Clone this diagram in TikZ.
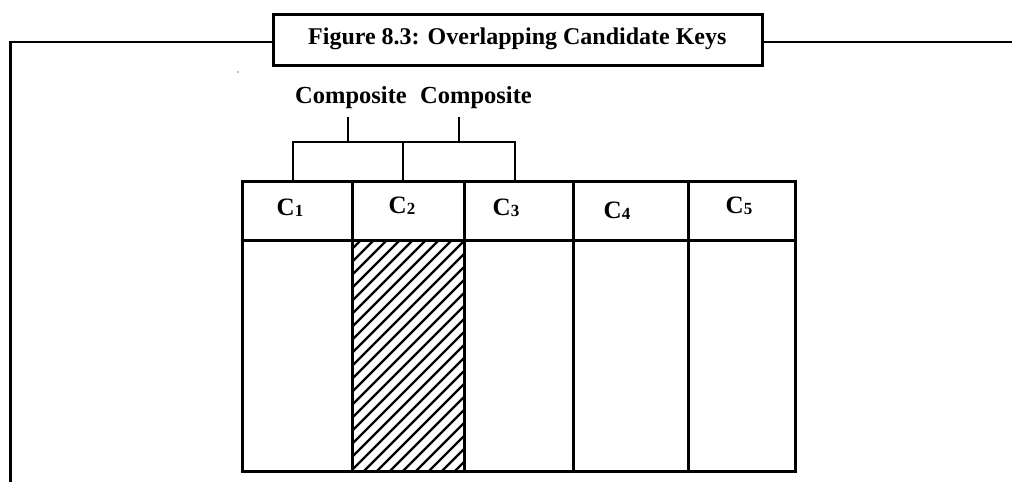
\documentclass[tikz,border=0pt]{standalone}
\usepackage{fontspec}
\setmainfont{Liberation Serif}
\begin{document}
\begin{tikzpicture}[x=1pt,y=-1pt,
  frame/.style={line width=2.5pt},
  gridline/.style={line width=3pt},
  bracket/.style={line width=2.6pt},
  hatchline/.style={line width=2.4pt},
  lbl/.style={font=\fontsize{25}{25}\selectfont\bfseries, inner sep=0pt, anchor=base},
  toplbl/.style={font=\fontsize{24.5}{25}\selectfont\bfseries, inner sep=0pt, anchor=base},
]
\useasboundingbox (0,0) rectangle (1012,482);
\newcommand{\sub}[1]{\raisebox{-1.5pt}{\fontsize{17}{17}\selectfont #1}}
% title box
\node[draw, line width=3pt, minimum width=489pt, minimum height=51pt, inner sep=0pt] (title) at (517.5,39.5) {};
\node[anchor=base west, inner sep=0pt, font=\fontsize{24}{28}\selectfont\bfseries] (ttext) at (308,44) {Figure 8.3: Overlapping Candidate Keys};
% frame
\coordinate (ly) at (0,42);
\coordinate (rend) at (1012,42);
\coordinate (lcorner) at (10.7,42);
\coordinate (lbottom) at (10.7,482);
\draw[frame] (ly -| title.east) -- (rend);
\draw[frame] (ly -| title.west) -- (lcorner) -- (lbottom);
% stray dot
\fill (238,72) circle (0.6pt);
% hatching of column 2
\begin{scope}
  \clip (352,240) rectangle (464,471);
  \foreach \s in {-234,-221,...,470} {
    \draw[hatchline] (\s,471) -- ++(231,-231);
  }
\end{scope}
% table
\coordinate (tl) at (242,181);
\coordinate (br) at (795,471);
\draw[gridline] (tl) rectangle (br);
\draw[gridline] (242,240) -- (795,240);
\foreach \x in {352,464,573,688} {
  \draw[gridline] (\x,181) -- (\x,471);
}
% header labels
\node[lbl] (c1) at (290,215) {C\sub{1}};
\node[lbl] (c2) at (402,213) {C\sub{2}};
\node[lbl] (c3) at (506,215) {C\sub{3}};
\node[lbl] (c4) at (617,218) {C\sub{4}};
\node[lbl] (c5) at (739,213) {C\sub{5}};
% composite labels
\node[toplbl] (k1) at (351,103) {Composite};
\node[toplbl] (k2) at (476,103) {Composite};
% bracket
\coordinate (b1) at (293,181);
\coordinate (b2) at (403,181);
\coordinate (b3) at (515,181);
\coordinate (t1) at (348,117);
\coordinate (t2) at (459,117);
\draw[bracket] (b1) -- (293,142) -- (515,142) -- (b3);
\draw[bracket] (b2) -- (403,142);
\draw[bracket] (t1) -- (348,142);
\draw[bracket] (t2) -- (459,142);
\end{tikzpicture}
\end{document}
